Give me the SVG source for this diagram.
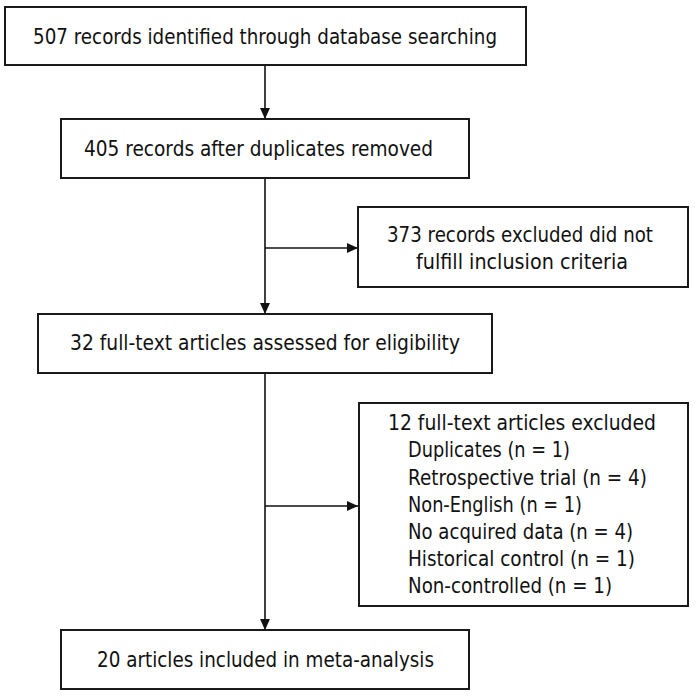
<svg xmlns="http://www.w3.org/2000/svg" width="696" height="696" viewBox="0 0 696 696">
<style>
.box{fill:#fff;stroke:#1a1a1a;stroke-width:2}
.t{font-family:"DejaVu Sans","Liberation Sans",sans-serif;font-size:21px;fill:#111}
.c{stroke:#111;stroke-width:1.6;fill:none}
</style>
<defs>
<marker id="ah" viewBox="0 0 10 10" refX="10" refY="5" markerWidth="11" markerHeight="11" markerUnits="userSpaceOnUse" orient="auto">
<path d="M0,0.5 L10,5 L0,9.5 Z" fill="#111"/>
</marker>
</defs>
<rect width="696" height="696" fill="#fff"/>
<g id="connectors">
<line class="c" x1="265" y1="65" x2="265" y2="119" marker-end="url(#ah)"/>
<line class="c" x1="265" y1="178" x2="265" y2="314" marker-end="url(#ah)"/>
<line class="c" x1="265" y1="248" x2="358" y2="248" marker-end="url(#ah)"/>
<line class="c" x1="265" y1="373" x2="265" y2="630" marker-end="url(#ah)"/>
<line class="c" x1="265" y1="506" x2="358" y2="506" marker-end="url(#ah)"/>
</g>
<g id="identified">
<rect class="box" x="5" y="7" width="521" height="58"/>
<text class="t" x="33" y="44" textLength="464" lengthAdjust="spacingAndGlyphs">507 records identified through database searching</text>
</g>
<g id="deduplicated">
<rect class="box" x="61" y="119" width="408" height="59"/>
<text class="t" x="84" y="156" textLength="349" lengthAdjust="spacingAndGlyphs">405 records after duplicates removed</text>
</g>
<g id="excluded-records">
<rect class="box" x="358" y="207" width="330" height="80"/>
<text class="t" x="387" y="242" textLength="266" lengthAdjust="spacingAndGlyphs">373 records excluded did not</text>
<text class="t" x="416" y="269" textLength="212" lengthAdjust="spacingAndGlyphs">fulfill inclusion criteria</text>
</g>
<g id="assessed">
<rect class="box" x="38" y="314" width="454" height="59"/>
<text class="t" x="70" y="350" textLength="390" lengthAdjust="spacingAndGlyphs">32 full-text articles assessed for eligibility</text>
</g>
<g id="excluded-articles">
<rect class="box" x="359" y="403" width="329" height="203"/>
<text class="t" x="388" y="430" textLength="268" lengthAdjust="spacingAndGlyphs">12 full-text articles excluded</text>
<text class="t" x="408" y="457" textLength="162" lengthAdjust="spacingAndGlyphs">Duplicates (n = 1)</text>
<text class="t" x="408" y="485" textLength="239" lengthAdjust="spacingAndGlyphs">Retrospective trial (n = 4)</text>
<text class="t" x="408" y="512" textLength="174" lengthAdjust="spacingAndGlyphs">Non-English (n = 1)</text>
<text class="t" x="408" y="539" textLength="225" lengthAdjust="spacingAndGlyphs">No acquired data (n = 4)</text>
<text class="t" x="408" y="566" textLength="227" lengthAdjust="spacingAndGlyphs">Historical control (n = 1)</text>
<text class="t" x="408" y="593" textLength="204" lengthAdjust="spacingAndGlyphs">Non-controlled (n = 1)</text>
</g>
<g id="included">
<rect class="box" x="61" y="630" width="408" height="59"/>
<text class="t" x="97" y="667" textLength="337" lengthAdjust="spacingAndGlyphs">20 articles included in meta-analysis</text>
</g>
</svg>
